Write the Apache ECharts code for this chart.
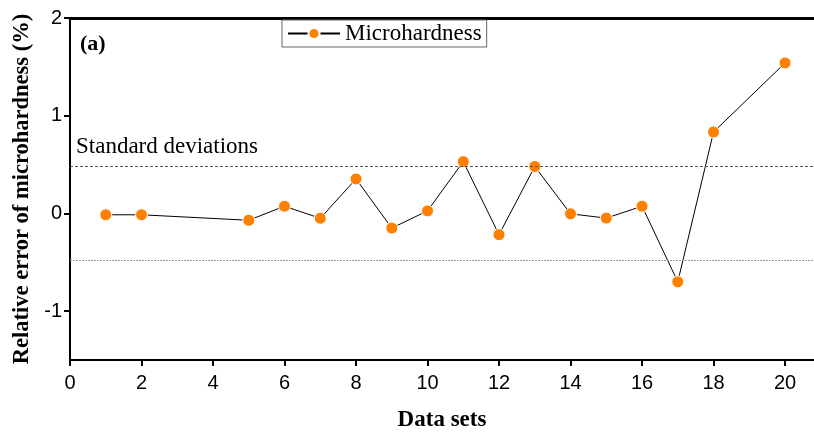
<!DOCTYPE html>
<html><head><meta charset="utf-8">
<script src="https://cdn.jsdelivr.net/npm/echarts@6/dist/echarts.min.js"></script>
<style>html,body{margin:0;padding:0;background:#fff}#c{width:814px;height:437px}</style>
</head><body><div id="c"></div>
<script>
const dataSets = [1, 2, 5, 6, 7, 8, 9, 10, 11, 12, 13, 14, 15, 16, 17, 18, 20];
const relError = [-0.014, -0.014, -0.07, 0.074, -0.05, 0.353, -0.15, 0.026, 0.53, -0.217, 0.48, -0.004, -0.048, 0.074, -0.70, 0.833, 1.54];
const stdDev = 0.48;
const xTicks = [0, 2, 4, 6, 8, 10, 12, 14, 16, 18, 20];
const yTicks = [-1, 0, 1, 2];

const chart = echarts.init(document.getElementById('c'));
const serif = '"Liberation Serif", "Times New Roman", serif';
const sans = '"Liberation Sans", Arial, sans-serif';
chart.setOption({
  animation: false,
  grid: { left: 70, right: 0, top: 18, bottom: 74 },
  legend: {
    data: ['Microhardness'],
    left: 282, top: 20,
    orient: 'horizontal',
    borderColor: '#666', borderWidth: 1, borderRadius: 0,
    padding: [2, 5, 2, 5],
    itemWidth: 52, itemHeight: 14,
    textStyle: { fontFamily: serif, fontSize: 23, color: '#000' }
  },
  xAxis: [{
    type: 'value', min: 0, max: 20.81, interval: 1,
    axisLine: { onZero: false, lineStyle: { color: '#000', width: 2 } },
    axisTick: { inside: false, length: 6, lineStyle: { color: '#000', width: 2 }, customValues: xTicks },
    axisLabel: { fontFamily: sans, fontSize: 20, color: '#000', margin: 13, customValues: xTicks },
    splitLine: { show: false },
    name: 'Data sets', nameLocation: 'middle', nameGap: 49,
    nameTextStyle: { fontFamily: serif, fontSize: 23, fontWeight: 'bold', color: '#000' }
  }, {
    type: 'value', min: 0, max: 20.81, position: 'top',
    axisLine: { show: true, onZero: false, lineStyle: { color: '#000', width: 3 } },
    axisTick: { show: false }, axisLabel: { show: false }, splitLine: { show: false }
  }],
  yAxis: {
    type: 'value', min: -1.5, max: 2, interval: 0.5,
    axisLine: { show: true, onZero: false, lineStyle: { color: '#000', width: 2 } },
    axisTick: { show: true, length: 6, lineStyle: { color: '#000', width: 2 }, customValues: yTicks },
    axisLabel: { fontFamily: sans, fontSize: 20, color: '#000', margin: 8, customValues: yTicks },
    splitLine: { show: false },
    name: 'Relative error of microhardness (%)', nameLocation: 'middle', nameGap: 31,
    nameTextStyle: { fontFamily: serif, fontSize: 22.5, fontWeight: 'bold', color: '#000' }
  },
  graphic: [
    { type: 'text', left: 80, top: 33, style: { text: '(a)', font: 'bold 22px ' + serif, fill: '#000' } },
    { type: 'text', left: 76, top: 135, style: { text: 'Standard deviations', font: '23px ' + serif, fill: '#000' } }
  ],
  series: [{
    name: 'Microhardness', type: 'line',
    data: dataSets.map((x, i) => [x, relError[i]]),
    symbol: 'circle', symbolSize: 12,
    lineStyle: { color: '#000', width: 1 },
    itemStyle: { color: '#FF8000', borderColor: '#fff', borderWidth: 1 },
    markLine: {
      silent: true, symbol: 'none', label: { show: false },
      data: [
        { yAxis: stdDev, lineStyle: { color: '#555', type: [3, 2], width: 1 } },
        { yAxis: -stdDev, lineStyle: { color: '#999', type: [2, 1], width: 1 } }
      ]
    }
  }]
});
</script></body></html>
